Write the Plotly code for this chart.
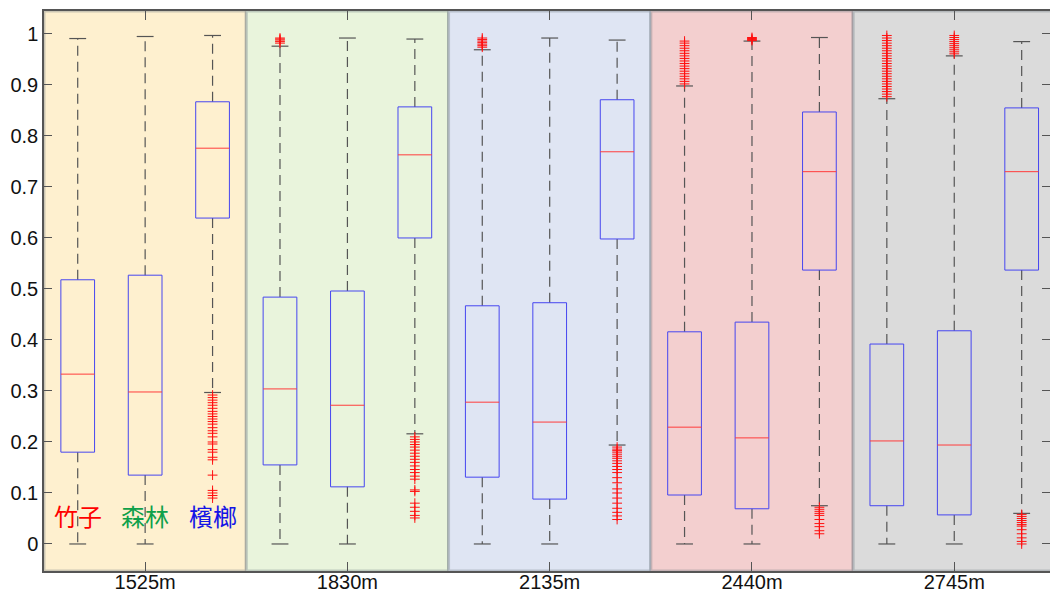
import plotly.graph_objects as go

# ---------------- data ----------------
groups = ["1525m", "1830m", "2135m", "2440m", "2745m"]
classes = ["竹子", "森林", "檳榔"]
class_colors = ["#FF0000", "#0FA04A", "#1414E6"]
bg_colors = ["#FEF0CF", "#E9F4DC", "#DFE5F3", "#F3CFCF", "#DBDBDB"]

# box statistics, 15 boxes (group-major, class-minor)
q1 = [0.180, 0.135, 0.639, 0.155, 0.112, 0.600, 0.131, 0.088, 0.598,
      0.096, 0.069, 0.537, 0.075, 0.057, 0.537]
median = [0.333, 0.298, 0.776, 0.304, 0.272, 0.763, 0.278, 0.239, 0.769,
          0.229, 0.208, 0.730, 0.202, 0.194, 0.730]
q3 = [0.518, 0.527, 0.867, 0.484, 0.496, 0.857, 0.467, 0.473, 0.871,
      0.416, 0.435, 0.847, 0.392, 0.418, 0.855]
whisker_low = [0.0, 0.0, 0.297, 0.0, 0.0, 0.216, 0.0, 0.0, 0.194,
               0.0, 0.0, 0.075, 0.0, 0.0, 0.060]
whisker_high = [0.991, 0.995, 0.997, 0.976, 0.992, 0.990, 0.969, 0.992, 0.988,
                0.898, 0.986, 0.993, 0.873, 0.957, 0.985]

outliers = [
    [],
    [],
    [0.292, 0.287, 0.282, 0.277, 0.272, 0.266, 0.260, 0.255, 0.250,
     0.245, 0.240, 0.235, 0.228, 0.222, 0.217, 0.210, 0.200, 0.196,
     0.185, 0.180, 0.170, 0.165, 0.135, 0.105, 0.100, 0.095, 0.090],
    [0.982, 0.985, 0.988, 0.990, 0.992],
    [],
    [0.210, 0.205, 0.200, 0.195, 0.190, 0.184, 0.178, 0.172, 0.166, 0.160,
     0.153, 0.146, 0.140, 0.133, 0.127, 0.106, 0.103, 0.080, 0.072, 0.064,
     0.056, 0.051],
    [0.974, 0.977, 0.980, 0.983, 0.986, 0.989, 0.992],
    [],
    [0.190, 0.186, 0.183, 0.180, 0.176, 0.172, 0.168, 0.163, 0.158, 0.152, 0.146,
     0.140, 0.130, 0.120, 0.108, 0.100, 0.090, 0.080, 0.070, 0.062, 0.055, 0.048],
    [0.902, 0.907, 0.912, 0.917, 0.922, 0.927, 0.932, 0.937, 0.942, 0.947, 0.952,
     0.957, 0.962, 0.967, 0.972, 0.977, 0.982, 0.986],
    [0.987, 0.989, 0.991, 0.993],
    [0.072, 0.068, 0.064, 0.060, 0.056, 0.048, 0.040, 0.034, 0.026, 0.020],
    [0.877, 0.882, 0.887, 0.892, 0.897, 0.902, 0.907, 0.912, 0.917, 0.922, 0.927,
     0.932, 0.937, 0.942, 0.947, 0.952, 0.957, 0.962, 0.967, 0.972, 0.977, 0.982,
     0.987, 0.992, 0.997],
    [0.961, 0.965, 0.969, 0.973, 0.977, 0.981, 0.985, 0.989, 0.993, 0.997],
    [0.058, 0.054, 0.050, 0.046, 0.042, 0.038, 0.035, 0.028, 0.020, 0.012, 0.005, 0.000],
]

yticks = [0, 0.1, 0.2, 0.3, 0.4, 0.5, 0.6, 0.7, 0.8, 0.9, 1.0]
ytick_text = ["0", "0.1", "0.2", "0.3", "0.4", "0.5", "0.6", "0.7", "0.8", "0.9", "1"]

# ---------------- styling ----------------
BOX_W = 0.5
CAP_W = 0.25
n = len(q1)
pos = [i + 1 for i in range(n)]

box_x, box_y = [], []
med_x, med_y = [], []
wh_x, wh_y = [], []
cap_x, cap_y = [], []
out_x, out_y = [], []
for i in range(n):
    p = pos[i]
    l, r = p - BOX_W / 2, p + BOX_W / 2
    box_x += [l, r, r, l, l, None]
    box_y += [q1[i], q1[i], q3[i], q3[i], q1[i], None]
    med_x += [l, r, None]
    med_y += [median[i], median[i], None]
    wh_x += [p, p, None, p, p, None]
    wh_y += [q3[i], whisker_high[i], None, q1[i], whisker_low[i], None]
    cl, cr = p - CAP_W / 2, p + CAP_W / 2
    cap_x += [cl, cr, None, cl, cr, None]
    cap_y += [whisker_high[i], whisker_high[i], None, whisker_low[i], whisker_low[i], None]
    for v in outliers[i]:
        out_x.append(p)
        out_y.append(v)

fig = go.Figure()
fig.add_trace(go.Scatter(x=wh_x, y=wh_y, mode="lines",
                         line=dict(color="#555555", width=1.2, dash="10px,6px"),
                         hoverinfo="skip", showlegend=False))
fig.add_trace(go.Scatter(x=cap_x, y=cap_y, mode="lines",
                         line=dict(color="#555555", width=1.2),
                         hoverinfo="skip", showlegend=False))
fig.add_trace(go.Scatter(x=box_x, y=box_y, mode="lines",
                         line=dict(color="#4646F0", width=1),
                         hoverinfo="skip", showlegend=False))
fig.add_trace(go.Scatter(x=med_x, y=med_y, mode="lines",
                         line=dict(color="#FF3C3C", width=1),
                         hoverinfo="skip", showlegend=False))
fig.add_trace(go.Scatter(x=out_x, y=out_y, mode="markers",
                         marker=dict(symbol="cross-thin", size=7,
                                     line=dict(color="#FF1010", width=1)),
                         hoverinfo="skip", showlegend=False))

# group backgrounds
shapes = []
for g in range(len(groups)):
    shapes.append(dict(type="rect", xref="x", yref="paper",
                       x0=0.5 + 3 * g, x1=3.5 + 3 * g, y0=0, y1=1,
                       fillcolor=bg_colors[g],
                       line=dict(color="rgba(110,120,130,0.35)", width=3),
                       layer="below"))

# class labels
annotations = []
for k in range(3):
    annotations.append(dict(x=pos[k], y=0.055, xref="x", yref="y",
                            text=classes[k], showarrow=False,
                            font=dict(family="Noto Sans CJK TC", size=24,
                                      color=class_colors[k])))

group_centers = [3 * g + 2 for g in range(len(groups))]

fig.update_layout(
    width=1050, height=595,
    margin=dict(l=44, r=0, t=11, b=24, autoexpand=False),
    paper_bgcolor="white", plot_bgcolor="white",
    shapes=shapes, annotations=annotations,
    showlegend=False,
    font=dict(family="Liberation Sans, Arial", size=20, color="#111111"),
)
fig.update_xaxes(range=[0.5, 15.42], tickvals=group_centers, ticktext=groups,
                 ticks="inside", ticklen=9, tickcolor="#555555", tickwidth=1,
                 showline=True, linecolor="#555555", linewidth=1.5, mirror="ticks",
                 showgrid=False, zeroline=False, tickfont=dict(size=20),
                 ticklabelstandoff=-8, automargin=False)
fig.update_yaxes(range=[-0.053, 1.045], tickvals=yticks, ticktext=ytick_text,
                 ticks="inside", ticklen=8, tickcolor="#555555", tickwidth=1,
                 showline=True, linecolor="#555555", linewidth=1.5, mirror="ticks",
                 showgrid=False, zeroline=False, tickfont=dict(size=20),
                 automargin=False)

fig.write_html("out.html", config={"displayModeBar": False},
               post_script="document.body.style.margin='0';document.body.style.overflow='hidden';")
